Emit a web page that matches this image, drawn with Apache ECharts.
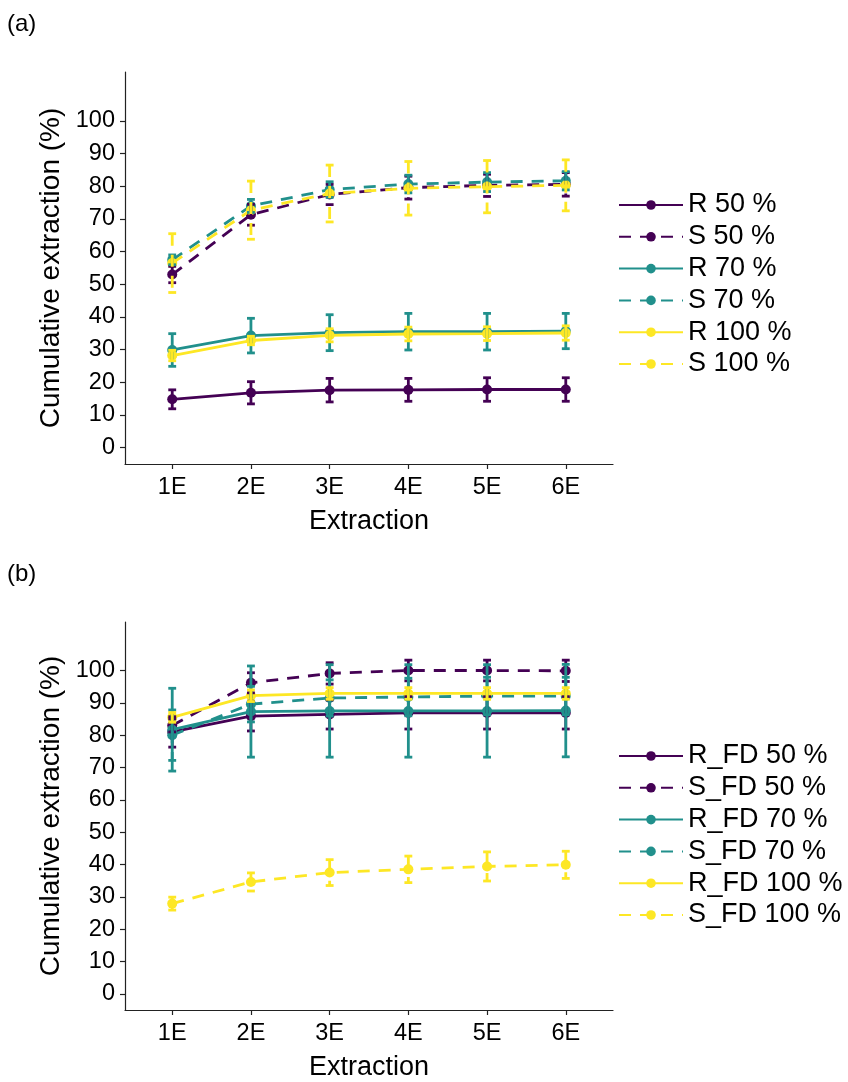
<!DOCTYPE html>
<html>
<head>
<meta charset="utf-8">
<script src="https://cdn.jsdelivr.net/npm/echarts@6/dist/echarts.min.js"></script>
<style>
  html, body { margin: 0; padding: 0; background: #fff; }
  #chart { width: 848px; height: 1082px; }
</style>
</head>
<body>
<div id="chart"></div>
<script>
// Extraction steps (x axis)
const categories = ['1E', '2E', '3E', '4E', '5E', '6E'];
const yTicks = [0, 10, 20, 30, 40, 50, 60, 70, 80, 90, 100];

// Panel (a): mean cumulative extraction (%) and its error (±)
const namesA = ['R 50 %', 'S 50 %', 'R 70 %', 'S 70 %', 'R 100 %', 'S 100 %'];
const r50   = [14.8, 16.8, 17.6, 17.7, 17.8, 17.8];
const r50Err = [2.9, 3.4, 3.6, 3.5, 3.6, 3.6];
const s50   = [53.0, 71.3, 77.5, 79.6, 80.3, 80.6];
const s50Err = [2.5, 3.2, 3.1, 3.5, 3.4, 3.6];
const r70   = [29.9, 34.3, 35.2, 35.5, 35.5, 35.7];
const r70Err = [5.0, 5.3, 5.5, 5.6, 5.6, 5.4];
const s70   = [57.5, 74.0, 79.0, 80.7, 81.3, 81.7];
const s70Err = [1.5, 2.0, 2.4, 2.7, 2.9, 2.8];
const r100  = [28.2, 32.8, 34.4, 34.8, 34.9, 35.1];
const r100Err = [1.6, 1.3, 2.0, 2.1, 2.1, 2.2];
const s100  = [56.5, 72.7, 77.8, 79.4, 79.9, 80.3];
const s100Err = [9.0, 8.9, 8.7, 8.2, 8.0, 7.8];

// Panel (b): freeze-dried samples
const namesB = ['R_FD 50 %', 'S_FD 50 %', 'R_FD 70 %', 'S_FD 70 %', 'R_FD 100 %', 'S_FD 100 %'];
const rfd50   = [81.0, 85.9, 86.4, 86.9, 86.9, 86.9];
const rfd50Err = [4.7, 4.6, 4.5, 5.0, 5.0, 5.0];
const sfd50   = [83.0, 96.2, 99.1, 100.0, 100.0, 99.9];
const sfd50Err = [2.0, 3.1, 3.3, 3.2, 3.2, 3.3];
const rfd70   = [81.7, 87.3, 87.5, 87.5, 87.5, 87.6];
const rfd70Err = [12.8, 14.1, 14.3, 14.3, 14.3, 14.3];
const sfd70   = [80.0, 89.6, 91.5, 91.8, 92.1, 92.1];
const sfd70Err = [7.8, 5.5, 5.6, 5.8, 5.8, 5.8];
const rfd100  = [85.5, 92.2, 92.9, 92.9, 92.9, 92.9];
const rfd100Err = [1.5, 1.8, 1.8, 1.8, 1.8, 1.8];
const sfd100  = [27.9, 34.6, 37.5, 38.5, 39.4, 39.9];
const sfd100Err = [2.0, 2.8, 4.0, 4.1, 4.5, 4.2];

const colors = ['#440154', '#440154', '#21908C', '#21908C', '#FDE725', '#FDE725'];
const dashedFlags = [false, true, false, true, false, true];
const FONT = '"Liberation Sans", Arial, Helvetica, sans-serif';
const LW = 2.8;
const DASH = [12, 9];

const panelA = [[r50, r50Err], [s50, s50Err], [r70, r70Err], [s70, s70Err], [r100, r100Err], [s100, s100Err]];
const panelB = [[rfd50, rfd50Err], [sfd50, sfd50Err], [rfd70, rfd70Err], [sfd70, sfd70Err], [rfd100, rfd100Err], [sfd100, sfd100Err]];

// Error bar: cap – vertical – cap, caps 0.1 x-units wide
function errorBar(color, dashed) {
  return function (params, api) {
    const x = api.value(0);
    const top = api.coord([x, api.value(2)]);
    const bot = api.coord([x, api.value(1)]);
    const half = api.size([0.1, 0])[0] / 2;
    const style = { stroke: color, lineWidth: LW, fill: null, lineDash: dashed ? DASH : null };
    return {
      type: 'group',
      children: [
        { type: 'line', shape: { x1: top[0] - half, y1: top[1], x2: top[0] + half, y2: top[1] }, style: style },
        { type: 'line', shape: { x1: top[0], y1: top[1], x2: bot[0], y2: bot[1] }, style: style },
        { type: 'line', shape: { x1: bot[0] - half, y1: bot[1], x2: bot[0] + half, y2: bot[1] }, style: style }
      ]
    };
  };
}

function buildSeries(panel, names, axisIndex) {
  const lines = [], bars = [];
  panel.forEach(function (pair, i) {
    const vals = pair[0], errs = pair[1];
    lines.push({
      name: names[i],
      type: 'line',
      xAxisIndex: axisIndex, yAxisIndex: axisIndex,
      data: vals.map(function (v, k) { return [k + 1, v]; }),
      symbol: 'circle', symbolSize: 10,
      itemStyle: { color: colors[i] },
      lineStyle: { color: colors[i], width: LW, type: dashedFlags[i] ? DASH : 'solid' },
      z: 2 + i * 0.01,
      animation: false,
      emphasis: { disabled: true }
    });
    bars.push({
      name: names[i],
      type: 'custom',
      xAxisIndex: axisIndex, yAxisIndex: axisIndex,
      data: vals.map(function (v, k) { return [k + 1, v - errs[k], v + errs[k]]; }),
      encode: { x: 0, y: [1, 2] },
      renderItem: errorBar(colors[i], dashedFlags[i]),
      z: 3 + i * 0.01,
      animation: false,
      silent: true
    });
  });
  return lines.concat(bars);
}

function xAxis(gridIndex) {
  return {
    type: 'value', gridIndex: gridIndex, min: 0.4, max: 6.6,
    name: 'Extraction', nameLocation: 'middle', nameGap: 44,
    nameTextStyle: { fontSize: 27, color: '#000', fontFamily: FONT },
    axisLine: { show: true, onZero: false, lineStyle: { color: '#222', width: 1.2 } },
    axisTick: { show: true, length: 5, customValues: [1, 2, 3, 4, 5, 6], lineStyle: { color: '#222', width: 1.2 } },
    axisLabel: { customValues: [1, 2, 3, 4, 5, 6], fontSize: 23.5, color: '#000', fontFamily: FONT, margin: 12,
      formatter: function (v) { return categories[Math.round(v) - 1]; } },
    splitLine: { show: false }
  };
}

function yAxis(gridIndex) {
  return {
    type: 'value', gridIndex: gridIndex, min: -5, max: 115,
    name: 'Cumulative extraction (%)', nameLocation: 'middle', nameGap: 58,
    nameTextStyle: { fontSize: 28, color: '#000', fontFamily: FONT },
    axisLine: { show: true, onZero: false, lineStyle: { color: '#222', width: 1.2 } },
    axisTick: { show: true, length: 5, customValues: yTicks, lineStyle: { color: '#222', width: 1.2 } },
    axisLabel: { customValues: yTicks, fontSize: 23.5, color: '#000', fontFamily: FONT, margin: 10 },
    splitLine: { show: false }
  };
}

function legend(names, top) {
  return {
    data: names, orient: 'vertical', left: 618, top: top, padding: 0,
    itemWidth: 64, itemHeight: 12, itemGap: 3.8,
    textStyle: { fontSize: 27, color: '#000', fontFamily: FONT, lineHeight: 28 },
    selectedMode: false
  };
}

const chart = echarts.init(document.getElementById('chart'), null, { renderer: 'canvas' });
chart.setOption({
  backgroundColor: '#fff',
  animation: false,
  textStyle: { fontFamily: FONT },
  grid: [
    { left: 125, top: 72, width: 488, height: 392 },
    { left: 125, top: 622, width: 488, height: 392 }
  ],
  xAxis: [xAxis(0), xAxis(1)],
  yAxis: [yAxis(0), yAxis(1)],
  legend: [legend(namesA, 191), legend(namesB, 742)],
  graphic: [
    { type: 'text', left: 7, top: 12, style: { text: '(a)', fontSize: 24, fill: '#000', fontFamily: FONT } },
    { type: 'text', left: 7, top: 562, style: { text: '(b)', fontSize: 24, fill: '#000', fontFamily: FONT } }
  ],
  series: buildSeries(panelA, namesA, 0).concat(buildSeries(panelB, namesB, 1))
});
</script>
</body>
</html>
